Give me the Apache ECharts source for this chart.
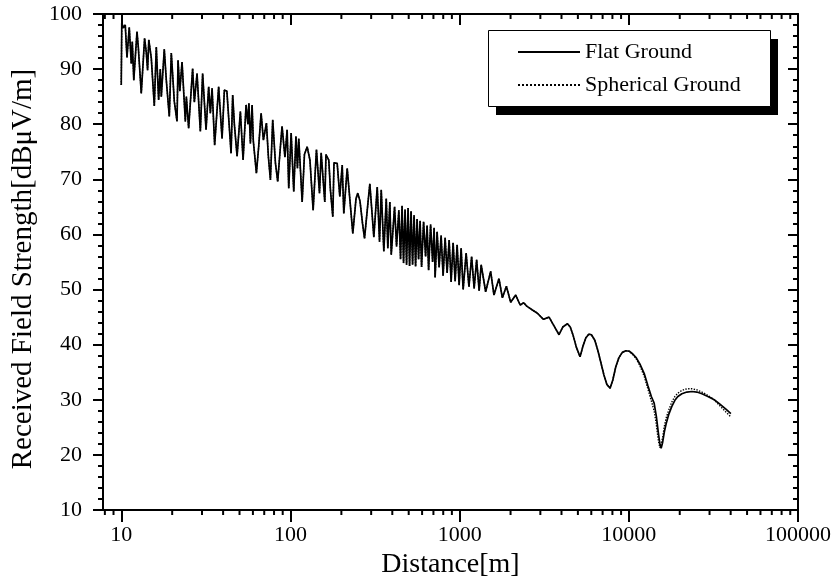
<!DOCTYPE html>
<html><head><meta charset="utf-8">
<script src="https://cdn.jsdelivr.net/npm/echarts@6/dist/echarts.min.js"></script>
<style>html,body{margin:0;padding:0;background:#fff}#c{width:838px;height:586px}</style>
</head><body><div id="c"></div>
<script>
// Distance [m] and received field strength [dBμV/m]
const distance = [
10.0,10.07,10.28,10.56,10.81,11.15,11.46,11.62,11.86,12.39,12.61,13.13,13.74,14.06,14.31,14.55,15.05,15.68,16.11,16.63,17.01,17.25,17.96,18.46,19.23,19.76,20.59,21.36,21.66,22.19,22.87,23.92,24.25,25.02,26.42,27.04,28.05,29.34,30.27,31.71,32.86,33.63,34.42,35.65,
37.64,39.43,40.69,42.10,44.58,45.56,46.62,48.37,50.60,52.49,54.68,56.04,56.81,57.98,59.34,60.31,62.93,64.93,67.09,69.21,72.11,74.10,76.15,78.57,81.51,84.11,87.27,89.22,92.79,95.60,97.71,100.96,104.6,107.8,110.0,112.0,117.3,121.0,125.6,130.4,136.2,142.5,148.5,151.9,159.6,162.2,168.5,172.4,178.0,180.9,188.9,195.8,202.3,206.7,216.5,225.0,233.7,240.8,244.1,250.2,257.8,266.7,274.1,283.6,294.6,311.1,325.8,336.2,344.1,356.5,368.4,376.4,386.8,394.3,412.5,423.9,437.3,
447.6,456.8,466.2,475.9,485.7,495.7,506.0,516.4,527.1,538.0,549.1,560.4,572.0,583.8,595.9,612.3,629.3,642.3,655.6,673.7,692.3,706.6,716.3,736.0,756.4,777.3,798.7,820.8,843.5,866.8,890.7,915.3,940.6,966.5,993.2,1020.7,1048.8,1092.5,1135.2,1177.6,1218.3,1260.5,1304.3,1340.3,1425.1,1525.5,1595.7,1708.1,1789.2,1889.5,2003.5,2144.7,2280.4,2392,2491.6,2692.7,2882.4,3127.9,3375.9,
3599,3868.2,4069,4337.8,4507,4695,4890,5150,5343,5566,5798,6016,6293,6556,6829,7114,7410,7752,8042,8377,8727,9153,9600,10068,10560,11075,11618,12320,12955,13587,14115,14545,14947,15255,15528,15827,16220,16667,17245,17960,18716,19496,20590,22034,23595,25259,27040,29343,31971,34551,37489,40117
];
const flatGround = [
87.1,98.4,97.5,98.0,92.1,97.6,91.0,95.0,88.0,96.8,94.0,85.6,95.6,93.0,89.8,95.3,92.0,83.3,94.0,84.4,90.0,85.0,93.6,88.0,81.4,92.9,84.1,80.5,91.6,86.0,91.3,80.5,85.0,79.3,90.1,84.0,89.2,78.7,89.2,79.0,86.8,82.0,86.5,76.2,
86.8,77.4,86.2,86.0,74.7,85.3,80.0,74.2,82.3,73.5,83.5,80.0,83.8,76.5,83.5,77.0,71.1,76.0,82.0,77.1,80.2,74.0,69.9,80.8,73.0,69.6,76.0,79.6,74.0,79.0,68.4,78.4,67.8,77.8,72.0,77.4,65.9,74.5,75.9,73.5,64.4,75.4,67.5,74.8,65.9,74.5,73.5,68.0,63.2,73.0,72.9,66.9,72.6,63.8,72.0,66.0,60.2,64.5,66.5,67.5,66.0,62.0,59.3,64.0,69.2,59.5,68.6,58.7,68.1,56.9,66.5,57.5,65.9,56.3,65.0,57.8,64.4,
55.5,65.2,54.8,64.5,54.5,64.8,54.3,64.2,54.5,63.5,54.2,62.8,55.5,62.5,54.1,62.3,56.0,61.6,53.5,61.8,55.0,61.2,52.2,60.5,54.0,59.8,52.5,59.4,53.0,59.0,51.4,58.5,51.5,58.1,50.8,57.5,50.0,56.6,50.5,56.0,50.2,55.4,49.8,54.5,49.6,53.3,49.0,52.0,48.5,50.6,47.7,49.0,47.2,47.6,47.0,46.3,45.7,44.6,45.0,
43.5,41.8,43.2,43.8,43.2,41.6,39.6,37.8,39.6,41.2,41.9,41.8,40.8,39.0,36.8,34.6,32.8,32.1,33.6,36.0,37.6,38.6,38.9,38.8,38.3,37.6,36.5,34.8,32.6,30.6,29.4,27.0,24.0,22.0,21.2,22.2,24.2,25.8,27.4,28.8,29.9,30.6,31.1,31.4,31.5,31.4,31.1,30.6,30.0,29.2,28.3,27.5
];
// Spherical ground coincides with flat ground below ~10 km; its differing tail:
const sphericalDistanceTail = [10068,10560,11075,11618,12320,12955,13587,14115,14545,14947,15255,15528,15827,16220,16667,17245,17960,18716,19496,20590,22034,23595,25259,27040,29343,31971,34551,37489,40117];
const sphericalGroundTail = [38.8,38.2,37.4,36.2,34.3,32.0,29.8,28.0,25.5,22.6,21.3,21.6,23.0,25.2,26.8,28.2,29.6,30.6,31.2,31.7,32.0,32.0,31.8,31.4,30.8,30.0,28.9,27.8,26.9];

const xMajorTicks = [10,100,1000,10000,100000];
const xMinorTicks = [8,9,20,30,40,50,60,70,80,90,200,300,400,500,600,700,800,900,2000,3000,4000,5000,6000,7000,8000,9000,20000,30000,40000,50000,60000,70000,80000,90000];
const seriesNames = ['Flat Ground','Spherical Ground'];

const FONT = "'Liberation Serif','Times New Roman',serif";
const flatData = distance.map((d,i)=>[d, flatGround[i]]);
const sphData = flatData.filter(p=>p[0] < sphericalDistanceTail[0])
  .concat(sphericalDistanceTail.map((d,i)=>[d, sphericalGroundTail[i]]));

const chart = echarts.init(document.getElementById('c'), null, {renderer:'canvas'});
const axisLine = {show:true, lineStyle:{color:'#000', width:2}};
const xBase = {type:'log', logBase:10, min:7.8, max:100000, splitLine:{show:false}, axisLine};
const yBase = {type:'value', min:10, max:100, interval:10, splitLine:{show:false}, axisLine};
chart.setOption({
  animation:false,
  backgroundColor:'#fff',
  grid:{left:103, right:40, top:14, bottom:76, containLabel:false, outerBoundsMode:'none'},
  xAxis:[
    Object.assign({}, xBase, {position:'bottom',
      axisTick:{show:true, inside:false, length:12, lineStyle:{color:'#000', width:2}},
      axisLabel:{show:true, showMinLabel:false, margin:14, color:'#000', fontSize:22, fontFamily:FONT,
        formatter:v=>{const r=Math.round(v); return xMajorTicks.indexOf(r)>=0 ? String(r) : '';}},
      name:'Distance[m]', nameLocation:'middle', nameGap:36,
      nameTextStyle:{color:'#000', fontSize:28, fontFamily:FONT}}),
    Object.assign({}, xBase, {position:'top',
      axisTick:{show:true, inside:true, length:11, lineStyle:{color:'#000', width:2}},
      axisLabel:{show:false}})
  ],
  yAxis:[
    Object.assign({}, yBase, {position:'left',
      axisTick:{show:true, inside:false, length:10, lineStyle:{color:'#000', width:2}},
      minorTick:{show:true, splitNumber:5, length:5, lineStyle:{color:'#000', width:2}},
      axisLabel:{show:true, margin:21, color:'#000', fontSize:22, fontFamily:FONT},
      name:'Received Field Strength[dBμV/m]', nameLocation:'middle', nameGap:58,
      nameTextStyle:{color:'#000', fontSize:29, fontFamily:FONT, padding:[0,0,0,-14]}}),
    Object.assign({}, yBase, {position:'right',
      axisTick:{show:true, inside:true, length:10, lineStyle:{color:'#000', width:2}},
      minorTick:{show:true, splitNumber:5, length:5, lineStyle:{color:'#000', width:2}},
      axisLabel:{show:false}})
  ],
  legend:{
    orient:'vertical', left:488, top:30, itemWidth:62, itemHeight:14, itemGap:11, z:10,
    padding:[11,29,10,29],
    itemStyle:{opacity:0},
    textStyle:{color:'#000', fontSize:22, fontFamily:FONT, lineHeight:22},
    data:seriesNames
  },
  series:[
    {name:seriesNames[0], type:'line', xAxisIndex:0, yAxisIndex:0, data:flatData,
     symbol:'none', showSymbol:false, lineStyle:{color:'#000', width:1.7}, itemStyle:{color:'#000'}, z:3},
    {name:seriesNames[1], type:'line', xAxisIndex:0, yAxisIndex:0, data:sphData,
     symbol:'none', showSymbol:false, lineStyle:{color:'#000', width:1.4, type:'dotted'}, itemStyle:{color:'#000'}, z:2}
  ]
});

// legend frame with offset solid shadow, and minor log ticks (2..9 per decade) placed through the axis scale
const yBottom = chart.convertToPixel({yAxisIndex:0}, 10);
const yTop = chart.convertToPixel({yAxisIndex:0}, 100);
const els = [
  {type:'rect', z:8, silent:true, shape:{x:496, y:39, width:282, height:76}, style:{fill:'#000'}},
  {type:'rect', z:9, silent:true, shape:{x:488.5, y:30.5, width:282, height:76}, style:{fill:'#fff', stroke:'#000', lineWidth:1}}
];
xMinorTicks.forEach(v=>{
  const px = chart.convertToPixel({xAxisIndex:0}, v);
  els.push({type:'line', silent:true, shape:{x1:px, y1:yBottom, x2:px, y2:yBottom+5}, style:{stroke:'#000', lineWidth:2}});
  els.push({type:'line', silent:true, shape:{x1:px, y1:yTop, x2:px, y2:yTop+5}, style:{stroke:'#000', lineWidth:2}});
});
chart.setOption({graphic:els});
</script></body></html>
